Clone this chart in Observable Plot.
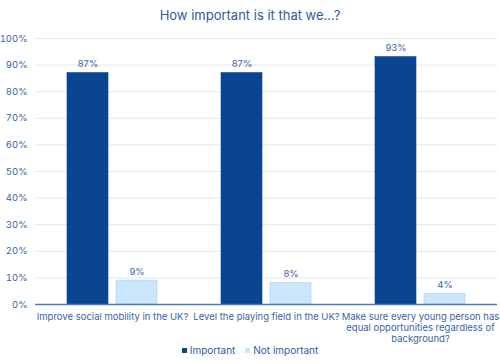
<!DOCTYPE html>
<html>
<head>
<meta charset="utf-8">
<script src="https://cdn.jsdelivr.net/npm/d3@7"></script>
<script src="https://cdn.jsdelivr.net/npm/@observablehq/plot@0.6"></script>
<style>
  body { margin: 0; background: #fff; font-family: Inter, "Noto Sans", sans-serif; }
  #wrap { width: 500px; height: 364px; overflow: hidden; }
  #title { height: 30px; line-height: 30px; text-align: center; font-size: 13px; color: #2f5b9c; }
  #legend { height: 20px; line-height: 12px; text-align: center; font-size: 10px; color: #2f5b9c; }
  #legend span.sw { display: inline-block; width: 5px; height: 5px; margin-right: 3px; vertical-align: 1px; }
  #legend span.item { margin: 0 5px; }
</style>
</head>
<body>
<div id="wrap">
  <div id="title">How important is it that we...?</div>
  <div id="chart"></div>
  <div id="legend"></div>
</div>
<script>
const categories = [
  "Improve social mobility in the UK?",
  "Level the playing field in the UK?",
  "Make sure every young person has equal opportunities regardless of background?"
];
const categoryLabels = [
  "Improve social mobility in the UK?",
  "Level the playing field in the UK?",
  "Make sure every young person has\nequal opportunities regardless of\nbackground?"
];
const series = ["Important", "Not important"];
const important = [87, 87, 93];
const notImportant = [9, 8, 4];
const colors = ["#0a4591", "#cce6fb"];
const yTicks = [0, 10, 20, 30, 40, 50, 60, 70, 80, 90, 100];

const data = [];
categories.forEach((c, i) => {
  data.push({category: c, series: series[0], value: important[i]});
  data.push({category: c, series: series[1], value: notImportant[i]});
});

const textColor = "#3a64a6";

const chart = Plot.plot({
  width: 500,
  height: 314,
  marginTop: 8,
  marginBottom: 40,
  marginLeft: 34,
  marginRight: 2,
  style: {fontFamily: "Inter, 'Noto Sans', sans-serif", fontSize: "10px", color: textColor, background: "#fff"},
  fx: {domain: categories, padding: 0, label: null, axis: null},
  x: {domain: series, paddingInner: 0.16, paddingOuter: 0.63, axis: null},
  y: {domain: [0, 100], label: null, axis: null},
  color: {domain: series, range: colors},
  marks: [
    Plot.gridY(yTicks, {stroke: "#e6e6e6", strokeOpacity: 1}),
    Plot.axisY(yTicks, {
      tickSize: 0, tickPadding: 8, tickFormat: d => d + "%", fill: textColor, fontSize: 9.5
    }),
    Plot.axisFx({
      anchor: "bottom",
      tickSize: 0, tickPadding: 7, label: null, fill: textColor, fontSize: 9.5, lineHeight: 1.2,
      tickFormat: d => categoryLabels[categories.indexOf(d)]
    }),
    Plot.barY(data, {
      fx: "category", x: "series", y: "value", fill: "series",
      stroke: d => d.series === "Important" ? "#0a4591" : "#a8d0f0",
      strokeDasharray: d => d.series === "Important" ? null : "1,2",
      strokeWidth: 0.6
    }),
    Plot.text(data, {
      fx: "category", x: "series", y: "value", text: d => d.value + "%",
      lineAnchor: "bottom", dy: -6, fill: textColor, fontSize: 9.5
    }),
    Plot.ruleY([0], {stroke: "#4a7cc4", strokeWidth: 1.5})
  ]
});
document.getElementById("chart").appendChild(chart);

const legend = document.getElementById("legend");
series.forEach((s, i) => {
  const item = document.createElement("span");
  item.className = "item";
  const sw = document.createElement("span");
  sw.className = "sw";
  sw.style.background = colors[i];
  item.appendChild(sw);
  item.appendChild(document.createTextNode(s));
  legend.appendChild(item);
});
</script>
</body>
</html>
